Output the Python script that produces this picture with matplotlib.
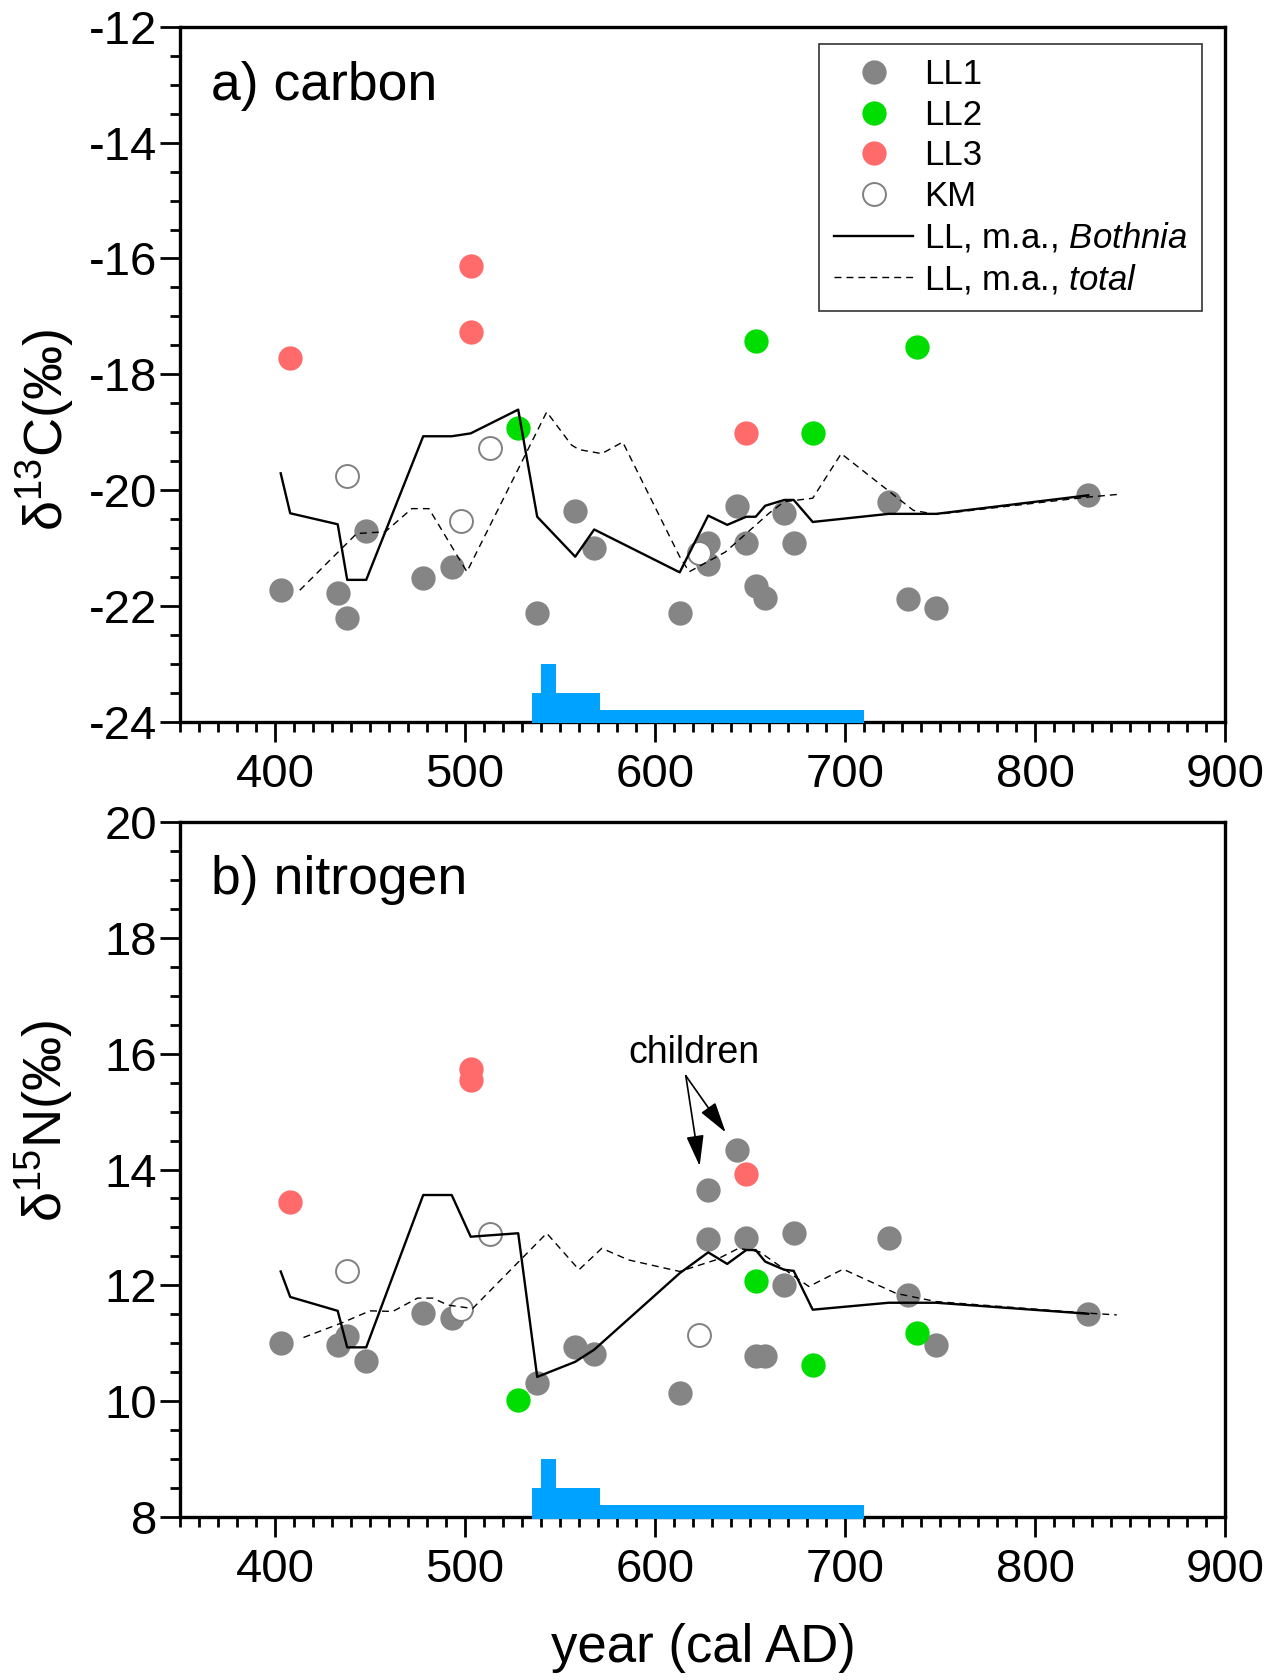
import matplotlib
matplotlib.use('Agg')
import matplotlib.pyplot as plt
from matplotlib.ticker import MultipleLocator

plt.rcParams['font.family'] = ['Liberation Sans', 'DejaVu Sans']
plt.rcParams['mathtext.fontset'] = 'custom'
plt.rcParams['mathtext.rm'] = 'Liberation Sans'
plt.rcParams['mathtext.it'] = 'Liberation Sans:italic'
plt.rcParams['mathtext.default'] = 'regular'
plt.rcParams['axes.unicode_minus'] = False

# ---------------- data ----------------
ll1_year = [403, 433, 438, 448, 478, 493, 538, 558, 568, 613, 628, 628, 643, 648,
            653, 658, 668, 673, 723, 733, 748, 828]
ll1_c = [-21.73, -21.77, -22.20, -20.70, -21.52, -21.33, -22.12, -20.36, -21.00, -22.12,
         -20.92, -21.27, -20.27, -20.92, -21.65, -21.87, -20.39, -20.92, -20.21, -21.88,
         -22.04, -20.08]
ll1_n = [11.01, 10.97, 11.13, 10.70, 11.52, 11.44, 10.32, 10.93, 10.81, 10.14,
         13.64, 12.80, 14.34, 12.81, 10.78, 10.78, 12.01, 12.90, 12.81, 11.83,
         10.97, 11.51]

ll2_year = [528, 653, 683, 738]
ll2_c = [-18.92, -17.43, -19.02, -17.53]
ll2_n = [10.02, 12.08, 10.62, 11.17]

ll3_year = [408, 503, 503, 648]
ll3_c = [-17.72, -16.13, -17.27, -19.02]
ll3_n = [13.44, 15.73, 15.55, 13.92]

km_year = [438, 498, 513, 623]
km_c = [-19.75, -20.53, -19.27, -21.08]
km_n = [12.24, 11.59, 12.89, 11.15]

# moving average, Bothnia (solid)
both_year = [403, 408, 433, 438, 448, 478, 493, 503, 528, 538, 558, 568, 613, 628,
             638, 648, 653, 658, 668, 673, 683, 723, 748, 828]
both_c = [-19.71, -20.40, -20.59, -21.55, -21.55, -19.07, -19.07, -19.02, -18.61,
          -20.46, -21.15, -20.68, -21.42, -20.44, -20.60, -20.46, -20.46, -20.27,
          -20.17, -20.17, -20.55, -20.41, -20.41, -20.09]
both_n = [12.24, 11.80, 11.56, 10.93, 10.93, 13.56, 13.56, 12.84, 12.90, 10.42,
          10.68, 10.89, 12.21, 12.57, 12.37, 12.61, 12.61, 12.41, 12.27, 12.25,
          11.58, 11.70, 11.70, 11.51]

# moving average, total (dashed)
tot_c_year = [413, 443, 458, 472, 481, 501, 543, 556, 560, 572, 583, 613, 618, 637,
              648, 660, 668, 683, 698, 736, 748, 828, 845]
tot_c = [-21.73, -20.75, -20.72, -20.32, -20.32, -21.41, -18.65, -19.22, -19.30,
         -19.37, -19.17, -21.15, -21.41, -21.07, -20.75, -20.40, -20.20, -20.14,
         -19.37, -20.35, -20.42, -20.12, -20.07]
tot_n_year = [415, 435, 450, 462, 475, 483, 491, 504, 543, 560, 572, 586, 613, 632,
              644, 655, 681, 699, 727, 748, 828, 843]
tot_n = [11.10, 11.35, 11.56, 11.55, 11.78, 11.78, 11.66, 11.60, 12.90, 12.27,
         12.64, 12.44, 12.24, 12.44, 12.64, 12.58, 11.98, 12.28, 11.86, 11.72,
         11.52, 11.49]

# calibrated date distribution (blue steps)
hist_edges = [535, 540, 548, 571, 710]
hist_heights = [0.5, 1.0, 0.5, 0.2]

# ---------------- styling ----------------
GRAY = '#858585'
GREEN = '#00DD00'
RED = '#FF6B6B'
BLUE = '#00A2FF'
MS = 17.5

fig = plt.figure(figsize=(12.83, 16.8), dpi=100)
ax1 = fig.add_axes([0.1403, 0.5704, 0.8145, 0.4136])
ax2 = fig.add_axes([0.1403, 0.0970, 0.8145, 0.4137])


def draw(ax, c1, c2, c3, ck, both, tot_year, tot, base, ylim):
    h1, = ax.plot(ll1_year, c1, 'o', color=GRAY, ms=MS, mec='none', zorder=2, label='LL1')
    h2, = ax.plot(ll2_year, c2, 'o', color=GREEN, ms=MS, mec='none', zorder=2, label='LL2')
    h3, = ax.plot(ll3_year, c3, 'o', color=RED, ms=MS, mec='none', zorder=2, label='LL3')
    h4, = ax.plot(km_year, ck, 'o', mfc='white', mec='#808080', mew=1.4, ms=MS - 1,
                  zorder=2.2, label='KM')
    h5, = ax.plot(both_year, both, '-', color='black', lw=1.7, zorder=3,
                  label='LL, m.a., $\\mathit{Bothnia}$')
    h6, = ax.plot(tot_year, tot, color='black', lw=1.0, ls=(0, (5, 3.6)), zorder=3,
                  label='LL, m.a., $\\mathit{total}$')
    ax.stairs([base + h for h in hist_heights], hist_edges, baseline=base - 0.03,
              fill=True, color=BLUE, zorder=3, clip_on=False)
    ax.set_xlim(350, 900)
    ax.set_ylim(*ylim)
    ax.xaxis.set_major_locator(MultipleLocator(100))
    ax.xaxis.set_minor_locator(MultipleLocator(10))
    ax.yaxis.set_major_locator(MultipleLocator(2))
    ax.yaxis.set_minor_locator(MultipleLocator(0.5))
    ax.tick_params(which='major', direction='out', length=14.5, width=2.0,
                   labelsize=34, pad=8)
    ax.tick_params(which='minor', direction='out', length=7.5, width=2.0)
    ax.tick_params(axis='y', which='major', pad=2)
    for s in ax.spines.values():
        s.set_linewidth(2.4)
    return [h1, h2, h3, h4, h5, h6]


handles = draw(ax1, ll1_c, ll2_c, ll3_c, km_c, both_c, tot_c_year, tot_c, -24, (-24, -12))
draw(ax2, ll1_n, ll2_n, ll3_n, km_n, both_n, tot_n_year, tot_n, 8, (8, 20))

leg = ax1.legend(handles=handles, loc='upper right', bbox_to_anchor=(0.978, 0.976),
                 borderaxespad=0, fontsize=25, frameon=True, fancybox=False,
                 edgecolor='black', handlelength=2.3, handletextpad=0.3,
                 labelspacing=0.22, borderpad=0.42, numpoints=1)
leg.get_frame().set_linewidth(1.2)

ax1.text(0.030, 0.895, 'a) carbon', transform=ax1.transAxes, fontsize=38.5,
         ha='left', va='baseline')
ax2.text(0.030, 0.896, 'b) nitrogen', transform=ax2.transAxes, fontsize=38.5,
         ha='left', va='baseline')

ax2.text(620.5, 15.84, 'children', ha='center', va='baseline', fontsize=27)
for tgt in [(623.5, 14.06), (637.2, 14.64)]:
    ax2.annotate('', xy=tgt, xytext=(616.2, 15.62),
                 arrowprops=dict(arrowstyle='-|>,head_length=0.95,head_width=0.27',
                                 color='black', lw=1.2, mutation_scale=20,
                                 shrinkA=0, shrinkB=0))

fig.text(0.035, 0.744, 'δ$^{13}$C(‰)', rotation=90, fontsize=39, ha='center', va='center')
fig.text(0.035, 0.333, 'δ$^{15}$N(‰)', rotation=90, fontsize=39, ha='center', va='center')
fig.text(0.548, 0.019, 'year (cal AD)', fontsize=38, ha='center', va='center')

fig.savefig('out.png', dpi=100)
